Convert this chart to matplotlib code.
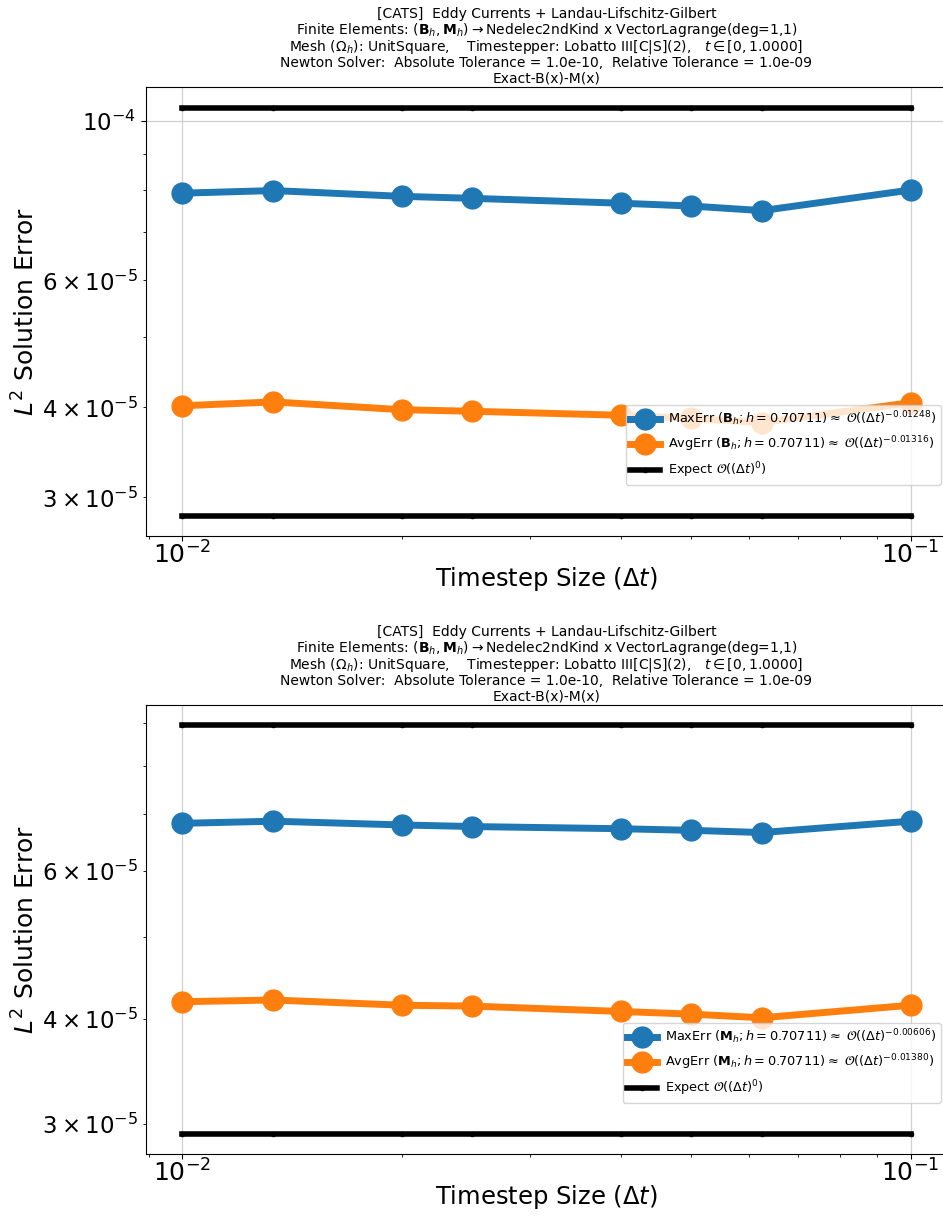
import numpy as np
import matplotlib
matplotlib.use("Agg")
import matplotlib.pyplot as plt

# timestep sizes
dt = [1 / 100, 1 / 75, 1 / 50, 1 / 40, 1 / 25, 1 / 20, 1 / 16, 1 / 10]

# B field errors
b_max = [7.93e-5, 7.996e-5, 7.85e-5, 7.80e-5, 7.68e-5, 7.61e-5, 7.50e-5, 8.01e-5]
b_avg = [4.02e-5, 4.07e-5, 3.97e-5, 3.95e-5, 3.90e-5, 3.86e-5, 3.81e-5, 4.06e-5]
b_ref = [1.042e-4, 2.83e-5]
b_rates = ["-0.01248", "-0.01316"]

# M field errors
m_max = [6.83e-5, 6.87e-5, 6.80e-5, 6.77e-5, 6.73e-5, 6.70e-5, 6.66e-5, 6.87e-5]
m_avg = [4.19e-5, 4.21e-5, 4.15e-5, 4.14e-5, 4.08e-5, 4.05e-5, 4.01e-5, 4.15e-5]
m_ref = [8.93e-5, 2.92e-5]
m_rates = ["-0.00606", "-0.01380"]

title_lines = [
    "[CATS]  Eddy Currents + Landau-Lifschitz-Gilbert",
    r"Finite Elements: $(\mathbf{B}_h, \mathbf{M}_h) \rightarrow$Nedelec2ndKind x VectorLagrange(deg=1,1)",
    r"Mesh ($\Omega_h$): UnitSquare,    Timestepper: Lobatto III[C|S](2),   $t \in [0, 1.0000]$",
    "Newton Solver:  Absolute Tolerance = 1.0e-10,  Relative Tolerance = 1.0e-09",
    "Exact-B(x)-M(x)",
]
# baseline offsets of the title lines above the axes (pixels)
title_offsets = [69, 53, 37, 20.5, 4.5]
AX_H = 448.7


def draw(ax, field, emax, eavg, ref, rates):
    ax.plot(dt, emax, '-o', color='#1f77b4', lw=5, ms=15,
            label=r'MaxErr ($\mathbf{%s}_h; h=0.70711$)$\approx$ $\mathcal{O}((\Delta t)^{%s})$' % (field, rates[0]))
    ax.plot(dt, eavg, '-o', color='#ff7f0e', lw=5, ms=15,
            label=r'AvgErr ($\mathbf{%s}_h; h=0.70711$)$\approx$ $\mathcal{O}((\Delta t)^{%s})$' % (field, rates[1]))
    for i, r in enumerate(ref):
        ax.plot(dt, [r] * len(dt), '.-', color='k', lw=4, ms=6,
                label=r'Expect $\mathcal{O}((\Delta t)^0)$' if i == 0 else None)
    ax.set_xscale('log')
    ax.set_yscale('log')
    ax.grid(True, which='major', color='#d0d0d0', lw=0.9)
    ax.tick_params(axis='x', which='both', labelsize=18, pad=0.5)
    ax.tick_params(axis='y', which='both', labelsize=16.5)
    ax.set_xlabel(r'Timestep Size ($\Delta t$)', fontsize=17.5, labelpad=-2.5)
    ax.set_ylabel(r'$L^2$ Solution Error', fontsize=18, labelpad=2)
    for line, off in zip(title_lines, title_offsets):
        ax.text(0.5, 1 + off / AX_H, line, transform=ax.transAxes,
                ha='center', va='baseline', fontsize=10)
    ax.legend(loc='lower right', bbox_to_anchor=(1.0, 0.1), fontsize=9.3,
              handlelength=2.3, handletextpad=0.6, borderpad=0.35,
              labelspacing=0.5)


fig = plt.figure(figsize=(9.43, 12.16), dpi=100)
ax1 = fig.add_axes([0.1548, 0.5592, 0.8494, 0.3690])
ax2 = fig.add_axes([0.1548, 0.0510, 0.8494, 0.3692])
draw(ax1, 'B', b_max, b_avg, b_ref, b_rates)
draw(ax2, 'M', m_max, m_avg, m_ref, m_rates)

fig.savefig('out.png', dpi=100)
